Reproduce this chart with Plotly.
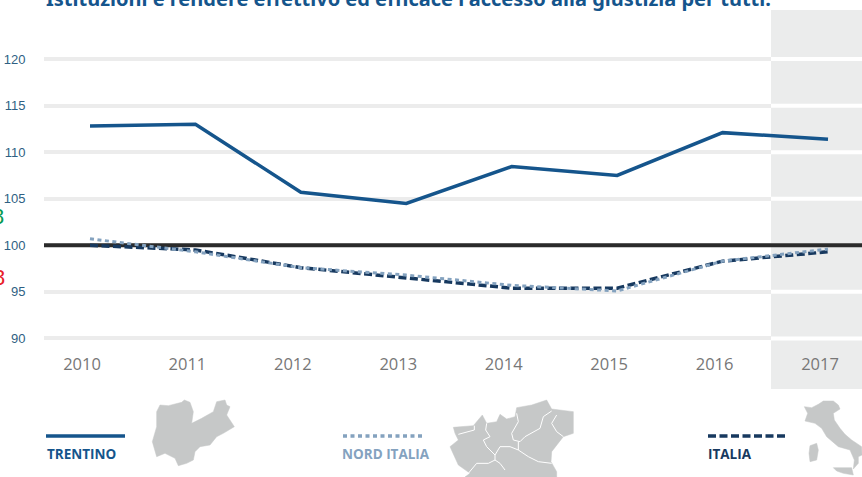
import plotly.graph_objects as go

W, H = 862, 477

# --- data ---
years = [2010, 2011, 2012, 2013, 2014, 2015, 2016, 2017]
trentino = [112.8, 113.0, 105.7, 104.5, 108.45, 107.5, 112.1, 111.4]
nord_italia = [100.7, 99.3, 97.6, 96.8, 95.7, 95.1, 98.3, 99.6]
italia = [100.0, 99.5, 97.6, 96.5, 95.4, 95.4, 98.3, 99.3]
y_ticks = [90, 95, 100, 105, 110, 115, 120]
title_text = "Istituzioni e rendere effettivo ed efficace l'accesso alla giustizia per tutti."

# --- colours ---
C_TRENTINO = "#15558c"
C_NORD = "#84a2bf"
C_ITALIA = "#17395f"
C_GRID = "#ececec"
C_BAND = "#ebecec"
C_MAP = "#c6c8c8"
DASH_NORD = "4px 3.5px"
DASH_ITALIA = "8px 3.5px"

LABEL_SHIFT = 8 / 105.43  # the year labels sit slightly left of the points
X_RANGE = [2010 - 46 / 105.43, 2010 + 772 / 105.43]
Y_RANGE = [90 - 50.5 / 9.3, 120 + 49 / 9.3]
BAND_LEFT = 2010 + (771 - 90) / 105.43


def zoomed(points, ox, oy):
    xs = [ox + p[0] / 3 for p in points] + [ox + points[0][0] / 3]
    ys = [oy + p[1] / 3 for p in points] + [oy + points[0][1] / 3]
    return xs, ys


# decorative silhouettes (pixel outlines)
map_trentino = [(35,50),(45,30),(70,32),(110,22),(118,15),(135,22),(145,50),(140,85),(170,70),(205,50),(215,20),(240,15),(245,30),(255,35),(245,60),(268,95),(235,115),(215,125),(195,150),(165,155),(150,170),(145,195),(125,205),(100,212),(90,190),(60,175),(35,185),(22,140),(35,95)]
map_nord = [(25,97),(85,92),(112,60),(125,85),(155,80),(165,58),(185,72),(210,65),(215,38),(260,30),(305,15),(320,42),(385,50),(385,115),(355,125),(320,170),(318,200),(335,230),(335,246),(60,246),(75,235),(40,210),(15,155),(40,135),(30,115)]
map_nord_borders = [
    [(40,118),(60,112),(88,105),(88,92)],
    [(125,85),(122,105),(135,125),(115,135),(125,155),(150,180),(150,195)],
    [(215,55),(220,80),(200,115),(205,135),(225,140),(240,125),(285,100),(295,65),(320,48)],
    [(335,60),(320,85),(335,110),(355,125)],
    [(150,180),(165,155),(195,155),(220,165),(250,185),(280,200),(320,205)],
    [(150,195),(130,205),(95,205),(70,235)],
    [(150,195),(165,205),(180,225)],
    [(220,140),(220,165)],
]
map_italy = [(28,35),(50,38),(70,28),(85,18),(115,18),(130,30),(135,42),(115,55),(118,75),(135,100),(150,118),(170,135),(200,155),(201,180),(190,185),(190,205),(175,222),(178,195),(165,165),(130,155),(95,125),(80,100),(60,85),(30,78),(38,55)]
map_sardinia = [(45,152),(65,145),(70,165),(65,195),(45,200),(42,175)]
map_sicily = [(115,218),(170,218),(175,240),(145,235),(125,228)]

fig = go.Figure()
fig.add_trace(go.Scatter(x=years, y=trentino, mode="lines", line=dict(color=C_TRENTINO, width=3.5), hoverinfo="skip", showlegend=False))
fig.add_trace(go.Scatter(x=years, y=italia, mode="lines", line=dict(color=C_ITALIA, width=3.5, dash=DASH_ITALIA), hoverinfo="skip", showlegend=False))
fig.add_trace(go.Scatter(x=years, y=nord_italia, mode="lines", line=dict(color=C_NORD, width=3, dash=DASH_NORD), hoverinfo="skip", showlegend=False))


def silhouette(points, ox, oy):
    xs, ys = zoomed(points, ox, oy)
    fig.add_trace(go.Scatter(x=xs, y=ys, xaxis="x2", yaxis="y2", mode="lines", fill="toself",
                             fillcolor=C_MAP, line=dict(color=C_MAP, width=0.5), hoverinfo="skip", showlegend=False))


silhouette(map_trentino, 145, 395)
silhouette(map_nord, 445, 395)
for b in map_nord_borders:
    fig.add_trace(go.Scatter(x=[445 + p[0] / 3 for p in b], y=[395 + p[1] / 3 for p in b], xaxis="x2", yaxis="y2",
                             mode="lines", line=dict(color="white", width=1), hoverinfo="skip", showlegend=False))
silhouette(map_italy, 795, 395)
silhouette(map_sardinia, 795, 395)
silhouette(map_sicily, 795, 395)

# legend keys
for x0, x1, col, dash in [(46, 125, C_TRENTINO, "solid"), (343, 423, C_NORD, DASH_NORD), (708, 785, C_ITALIA, DASH_ITALIA)]:
    fig.add_trace(go.Scatter(x=[x0, x1], y=[436, 436], xaxis="x2", yaxis="y2", mode="lines",
                             line=dict(color=col, width=3.5, dash=dash), hoverinfo="skip", showlegend=False))

shapes = [
    dict(type="rect", xref="x", yref="y", x0=BAND_LEFT, x1=X_RANGE[1], y0=Y_RANGE[0], y1=Y_RANGE[1], fillcolor=C_BAND, line_width=0, layer="between"),
]
for t in y_ticks:
    if t != 100:
        shapes.append(dict(type="line", xref="x", yref="y", x0=BAND_LEFT, x1=X_RANGE[1], y0=t, y1=t, line=dict(color="white", width=4), layer="between"))
shapes.append(dict(type="line", xref="x", yref="y", x0=X_RANGE[0], x1=X_RANGE[1], y0=100, y1=100, line=dict(color="#2b2b2b", width=4), layer="between"))

annotations = [
    dict(xref="x2", yref="y2", x=44, y=14, text=f"<b>{title_text}</b>", showarrow=False, xanchor="left", yanchor="bottom",
         font=dict(family="Noto Sans", size=20, color=C_TRENTINO)),
    dict(xref="x2", yref="y2", x=44.5, y=454, text="<b>TRENTINO</b>", showarrow=False, xanchor="left", yanchor="middle",
         font=dict(family="Open Sans", size=13.5, color=C_TRENTINO)),
    dict(xref="x2", yref="y2", x=340, y=454, text="<b>NORD ITALIA</b>", showarrow=False, xanchor="left", yanchor="middle",
         font=dict(family="Open Sans", size=13.5, color=C_NORD)),
    dict(xref="x2", yref="y2", x=706, y=454, text="<b>ITALIA</b>", showarrow=False, xanchor="left", yanchor="middle",
         font=dict(family="Open Sans", size=13.5, color=C_ITALIA)),
    dict(xref="x2", yref="y2", x=6, y=216, text="8", showarrow=False, xanchor="right", yanchor="middle",
         font=dict(family="Liberation Sans", size=22, color="#0a9a50")),
    dict(xref="x2", yref="y2", x=7, y=277, text="8", showarrow=False, xanchor="right", yanchor="middle",
         font=dict(family="Liberation Sans", size=22, color="#e8202a")),
]

fig.update_layout(
    width=W, height=H, margin=dict(l=0, r=0, t=0, b=0), paper_bgcolor="white", plot_bgcolor="rgba(0,0,0,0)",
    showlegend=False, shapes=shapes, annotations=annotations,
    xaxis=dict(domain=[44 / W, 1], range=X_RANGE, tickvals=[y - LABEL_SHIFT for y in years],
               ticktext=[str(y) for y in years], showgrid=False, zeroline=False, showline=False, ticks="inside",
               ticklabelposition="inside", ticklen=16, tickcolor="rgba(0,0,0,0)",
               tickfont=dict(family="Open Sans", size=16.5, color="#777777")),
    yaxis=dict(domain=[(H - 389) / H, (H - 10) / H], range=Y_RANGE, tickvals=y_ticks,
               showgrid=True, gridcolor=C_GRID, gridwidth=4, zeroline=False, showline=False, ticks="outside", ticklen=15,
               tickcolor="rgba(0,0,0,0)", tickfont=dict(family="Liberation Sans", size=13, color="#2f5f83")),
    xaxis2=dict(domain=[0, 1], range=[0, W], visible=False, anchor="y2"),
    yaxis2=dict(domain=[0, 1], range=[H, 0], visible=False, anchor="x2"),
)

fig.write_html("out.html", config=dict(displayModeBar=False), post_script="document.body.style.margin='0';")
